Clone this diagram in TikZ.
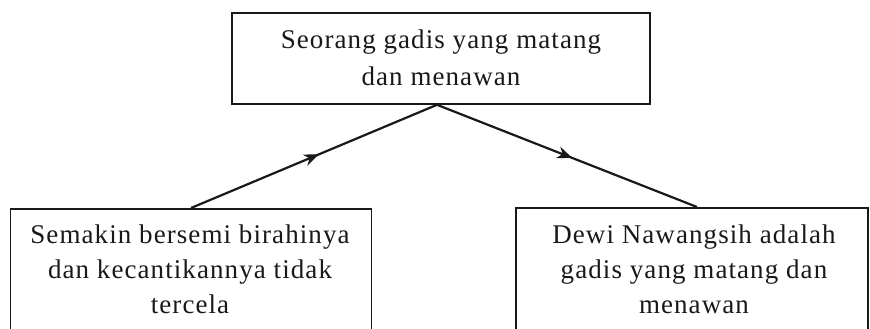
\documentclass[tikz,border=0pt]{standalone}
\usepackage{fontspec}
\setmainfont{Liberation Serif}[LetterSpace=4]
\usetikzlibrary{arrows.meta,decorations.markings}
\tikzset{
  box/.style={draw=black!90, line width=1.6pt, rectangle, inner sep=0pt},
  boxtext/.style={align=center, inner sep=0pt, anchor=north, text=black!90,
    font=\fontsize{27}{35}\selectfont},
  link/.style={line width=2.2pt, draw=black!90, postaction={decorate},
    decoration={markings, mark=at position 0.52 with
      {\arrow{Stealth[length=15pt,width=12pt]}}}}
}
\begin{document}
\begin{tikzpicture}[x=1pt,y=-1pt]
\useasboundingbox (0,0) rectangle (870,329);
\clip (0,0) rectangle (870,329);
% boxes
\node[box, minimum width=418pt, minimum height=91pt] (top) at (441,58.5) {};
\node[box, minimum width=361pt, minimum height=140pt, anchor=north] (left) at (191,208) {};
\node[box, minimum width=352pt, minimum height=140pt, anchor=north] (right) at (692,207) {};
% meeting point of both connectors, just left of the top box centre
\coordinate (hub) at ([xshift=-4pt]top.south);
% texts
\node[boxtext, font=\fontsize{27}{37}\selectfont] (toptext) at (441,29.6)
  {Seorang gadis yang matang\\dan menawan};
\node[boxtext] (lefttext) at (190,225)
  {Semakin bersemi birahinya\\dan kecantikannya tidak\\tercela};
\node[boxtext] (righttext) at (694,225)
  {Dewi Nawangsih adalah\\gadis yang matang dan\\menawan};
% connectors
\draw[link] (left.north) -- (hub);
\draw[link] (hub) -- ([xshift=5pt]right.north);
\end{tikzpicture}
\end{document}
